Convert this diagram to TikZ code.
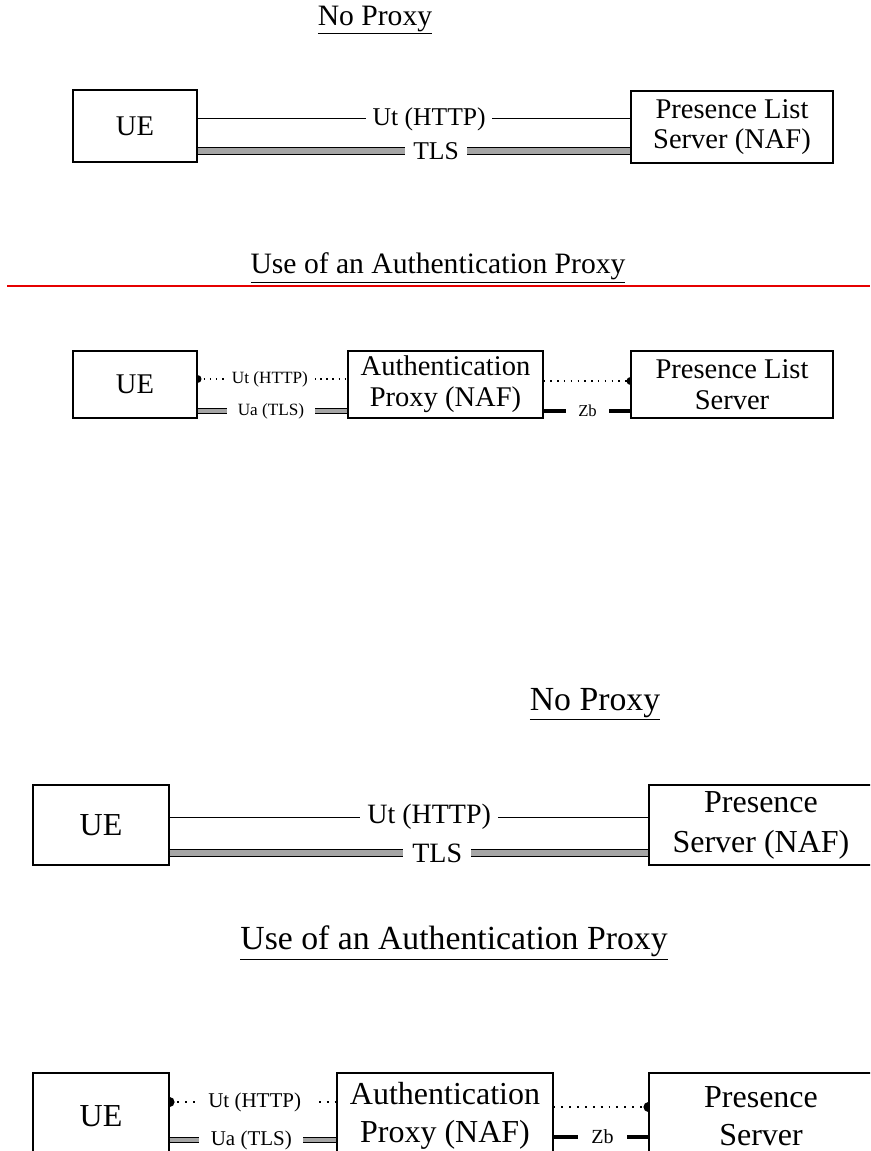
\documentclass[tikz,border=0pt]{standalone}
\usepackage{fontspec}
\setmainfont{Liberation Serif}
\definecolor{bandgray}{RGB}{165,165,165}
\definecolor{redline}{RGB}{230,0,0}
\begin{document}
\begin{tikzpicture}[x=0.75pt,y=-0.75pt,
  box/.style={draw, line width=0.8pt, inner sep=0pt, align=center, fill=white},
  thinline/.style={line width=0.75pt},
  band/.style={draw=black, line width=0.6pt, double=bandgray, double distance=#1},
  band/.default=4pt,
  dotline/.style={line width=#1, line cap=butt},
  dotline/.default=1.1pt,
  zbline/.style={line width=#1},
  zbline/.default=2.3pt,
  lbl/.style={fill=white, inner ysep=0pt, inner xsep=#1},
  ttl/.style={inner sep=0pt}
]
\useasboundingbox (0,0) rectangle (870,1151);
\fill[white] (0,0) rectangle (870,1151);
\clip (0,0) rectangle (870,1151);

% ---------------- Diagram 1 ----------------
\node[ttl, font=\fontsize{22.2}{26}\selectfont] (t1) at (375,20) {\underline{No Proxy}};
\node[box, minimum width=93pt, minimum height=54pt, font=\fontsize{21.4}{24}\selectfont] (ue1) at (135,126) {UE};
\node[box, minimum width=151.5pt, minimum height=54pt, font=\fontsize{21.4}{22}\selectfont] (pls1) at (732,127) {Presence List\\Server (NAF)};
\draw[thinline] (ue1.east |- 0,119) -- node[lbl=5pt, pos=.535, font=\fontsize{19.2}{22}\selectfont] (l1a) {Ut (HTTP)} (pls1.west |- 0,119);
\draw[band=4.2pt] (ue1.east |- 0,151) -- node[lbl=6.4pt, pos=.551, font=\fontsize{19.2}{22}\selectfont] (l1b) {TLS} (pls1.west |- 0,151);

% ---------------- Diagram 2 ----------------
\node[ttl, font=\fontsize{22.2}{26}\selectfont] (t2) at (438,268) {\underline{Use of an Authentication Proxy}};
\coordinate (rl0) at (7,286);
\coordinate (rl1) at (870,286);
\draw[redline, line width=2pt] (rl0) -- (rl1);
\node[box, minimum width=93pt, minimum height=50.25pt, font=\fontsize{21.4}{24}\selectfont] (ue2) at (135,384.5) {UE};
\node[box, minimum width=146.25pt, minimum height=50.25pt, font=\fontsize{21.4}{23}\selectfont] (ap2) at (445.5,384.5) {Authentication\\Proxy (NAF)};
\node[box, minimum width=151.5pt, minimum height=50.25pt, font=\fontsize{21.4}{23}\selectfont] (pls2) at (732,384.5) {Presence List\\Server};
\draw[dotline=1.1pt, dash pattern=on 1.1pt off 3.5pt] (ue2.east |- 0,379) -- node[lbl=5.6pt, pos=.483, font=\fontsize{12.9}{15}\selectfont] (l2a) {Ut (HTTP)} (ap2.west |- 0,379);
\fill (ue2.east |- 0,379) ++(0,3pt) arc[start angle=90, end angle=-90, radius=3pt] -- cycle;
\draw[band=2.8pt] (ue2.east |- 0,411) -- node[lbl=8pt, pos=.49, font=\fontsize{12.9}{15}\selectfont] (l2b) {Ua (TLS)} (ap2.west |- 0,411);
\draw[zbline=2.3pt] (ap2.east |- 0,411) -- node[lbl=9.4pt, pos=.506, font=\fontsize{12.5}{15}\selectfont] (l2c) {Zb} (pls2.west |- 0,411);
\draw[dotline=1.1pt, dash pattern=on 1.1pt off 4pt] (ap2.east |- 0,381) -- (pls2.west |- 0,381);
\fill (pls2.west |- 0,381) ++(0,3pt) arc[start angle=90, end angle=270, radius=3pt] -- cycle;

% ---------------- Diagram 3 ----------------
\node[ttl, font=\fontsize{25.3}{30}\selectfont] (t3) at (595,704) {\underline{No Proxy}};
\node[box, minimum width=102pt, minimum height=60pt, font=\fontsize{24}{28}\selectfont] (ue3) at (101,825) {UE};
\node[box, minimum width=168pt, minimum height=60pt, font=\fontsize{24}{30}\selectfont] (ps3) at (761,825) {Presence\\Server (NAF)};
\draw[thinline] (ue3.east |- 0,817) -- node[lbl=5.6pt, pos=.542, font=\fontsize{21}{24}\selectfont] (l3a) {Ut (HTTP)} (ps3.west |- 0,817);
\draw[band=5pt, line width=0.7pt] (ue3.east |- 0,853) -- node[lbl=7pt, pos=.559, font=\fontsize{21}{24}\selectfont] (l3b) {TLS} (ps3.west |- 0,853);

% ---------------- Diagram 4 ----------------
\node[ttl, font=\fontsize{25.3}{30}\selectfont] (t4) at (454,943) {\underline{Use of an Authentication Proxy}};
\node[box, minimum width=102pt, minimum height=64.5pt, font=\fontsize{24}{28}\selectfont] (ue4) at (101,1116) {UE};
\node[box, minimum width=162pt, minimum height=64.5pt, font=\fontsize{24}{28}\selectfont] (ap4) at (445,1116) {Authentication\\Proxy (NAF)};
\node[box, minimum width=168pt, minimum height=64.5pt, font=\fontsize{24}{28}\selectfont] (ps4) at (761,1116) {Presence\\Server};
\draw[dotline=1.4pt, dash pattern=on 1.4pt off 4.5pt] (ue4.east |- 0,1102) -- node[lbl=8.6pt, pos=.51, font=\fontsize{15.75}{18}\selectfont] (l4a) {Ut (HTTP)} (ap4.west |- 0,1102);
\fill (ue4.east |- 0,1102) ++(0,3.8pt) arc[start angle=90, end angle=-90, radius=3.8pt] -- cycle;
\draw[band=3.5pt] (ue4.east |- 0,1140) -- node[lbl=8.6pt, pos=.49, font=\fontsize{15.75}{18}\selectfont] (l4b) {Ua (TLS)} (ap4.west |- 0,1140);
\draw[zbline=2.6pt] (ap4.east |- 0,1137) -- node[lbl=10pt, pos=.516, font=\fontsize{15}{18}\selectfont] (l4c) {Zb} (ps4.west |- 0,1137);
\draw[dotline=1.4pt, dash pattern=on 1.4pt off 4.5pt] (ap4.east |- 0,1107) -- (ps4.west |- 0,1107);
\fill (ps4.west |- 0,1107) ++(0,3.8pt) arc[start angle=90, end angle=270, radius=3.8pt] -- cycle;
\end{tikzpicture}
\end{document}
